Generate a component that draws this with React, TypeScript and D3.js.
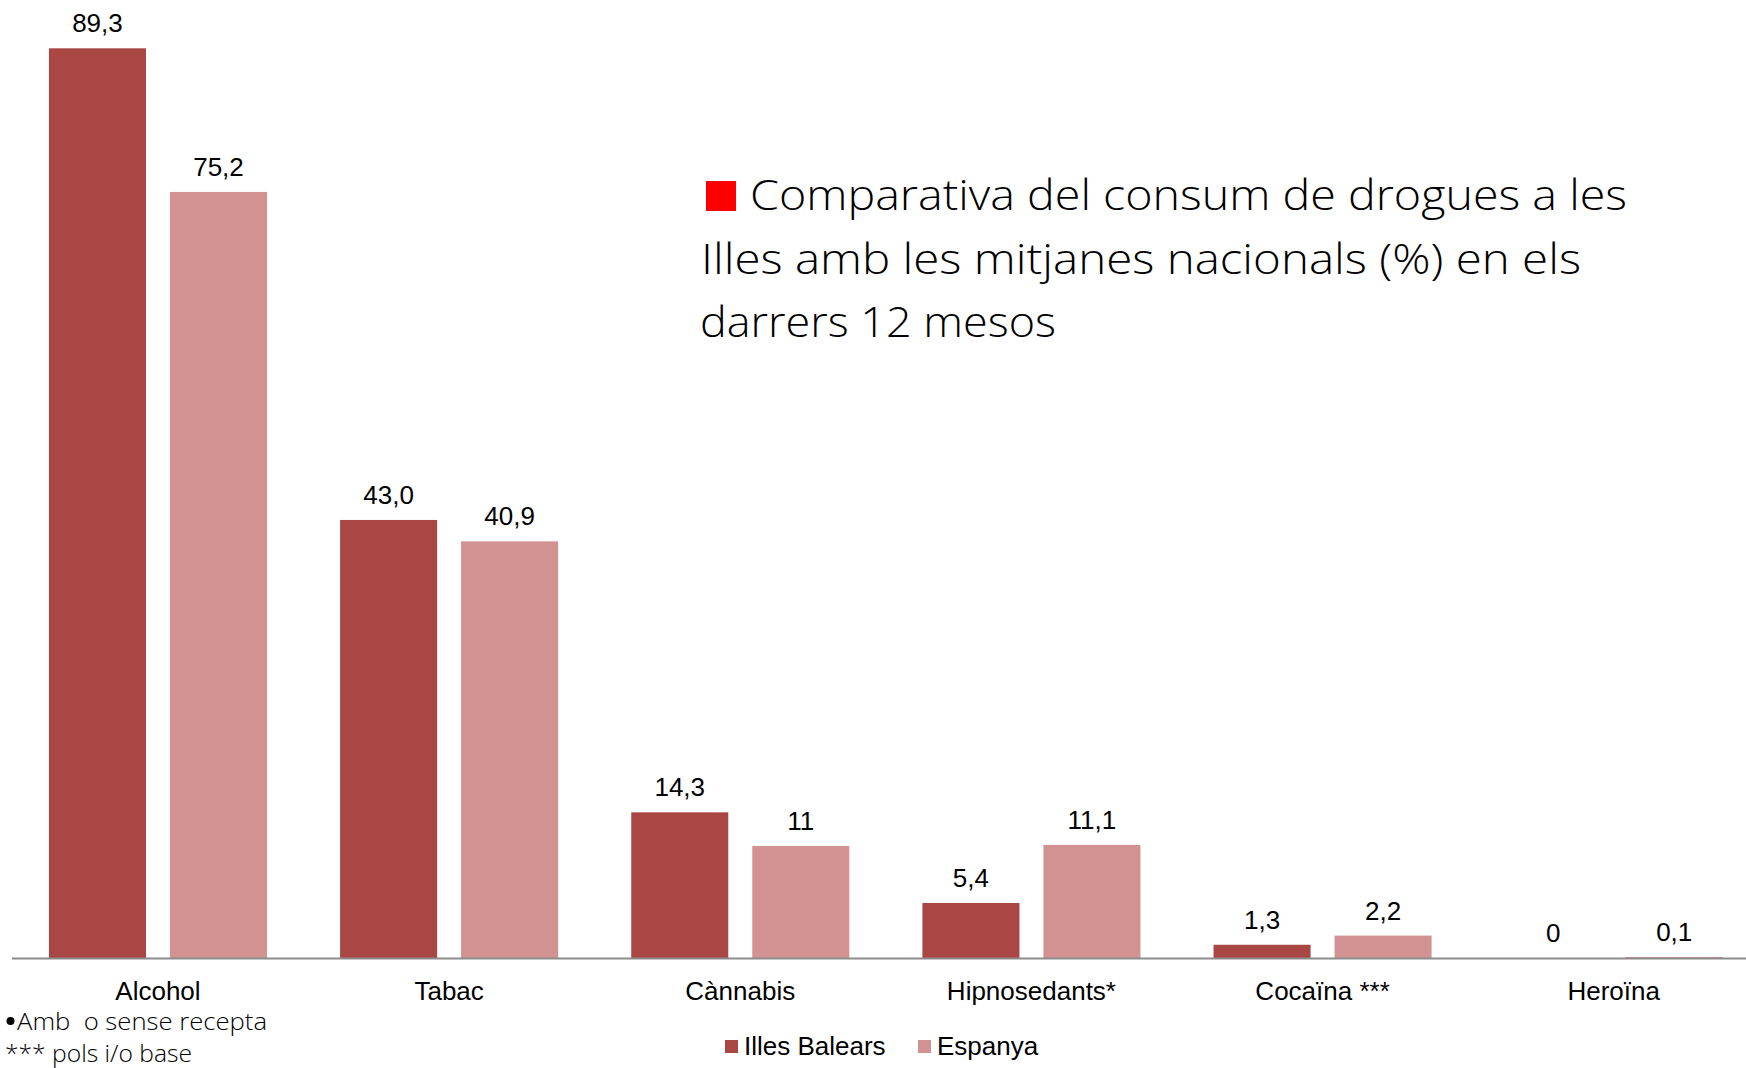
import React from "react";
import * as d3 from "d3";

const categories = ["Alcohol", "Tabac", "Cànnabis", "Hipnosedants*", "Cocaïna ***", "Heroïna"];
const series = ["Illes Balears", "Espanya"];
const illesBalears = [89.3, 43.0, 14.3, 5.4, 1.3, 0];
const espanya = [75.2, 40.9, 11, 11.1, 2.2, 0.1];
const illesLabels = ["89,3", "43,0", "14,3", "5,4", "1,3", "0"];
const espanyaLabels = ["75,2", "40,9", "11", "11,1", "2,2", "0,1"];
const titleLines = [
  "Comparativa del consum de drogues a les",
  "Illes amb les mitjanes nacionals (%) en els",
  "darrers 12 mesos",
];
const notes = ["Amb  o sense recepta", "*** pols i/o base"];

const colors = ["#a94745", "#d39292"];

export default function App() {
  const width = 1746;
  const height = 1068;
  const baseline = 958;

  const x0 = d3
    .scaleBand<string>()
    .domain(categories)
    .range([12.4, 1759.3])
    .paddingInner(0.251)
    .paddingOuter(0.1255);
  const x1 = d3
    .scaleBand<string>()
    .domain(series)
    .range([0, x0.bandwidth()])
    .paddingInner(0.198);
  const y = d3.scaleLinear().domain([0, 89.3]).range([baseline, 48.3]);

  const values = [illesBalears, espanya];
  const labels = [illesLabels, espanyaLabels];
  const sans = "'Liberation Sans', Arial, sans-serif";
  const human = "'Open Sans', 'Noto Sans', sans-serif";

  const titleX = [750, 701, 700];
  const titleW = [877, 880, 356];

  return (
    <svg
      width={width}
      height={height}
      style={{ position: "absolute", left: 0, top: 0, background: "#fff" }}
    >
      {series.map((s, si) => (
        <g key={s} fill={colors[si]}>
          {categories.map((c, i) => (
            <rect
              key={c}
              x={x0(c)! + x1(s)!}
              y={y(values[si][i])}
              width={x1.bandwidth()}
              height={baseline - y(values[si][i])}
            />
          ))}
        </g>
      ))}
      <line x1={12} x2={width} y1={958.5} y2={958.5} stroke="#8c8c8c" strokeWidth={2} />

      <g fontFamily={sans} fontSize={26} textAnchor="middle" fill="#000">
        {series.map((s, si) =>
          categories.map((c, i) => (
            <text
              key={s + c}
              x={x0(c)! + x1(s)! + x1.bandwidth() / 2}
              y={y(values[si][i]) - 16}
            >
              {labels[si][i]}
            </text>
          ))
        )}
        {categories.map((c) => (
          <text key={c} x={x0(c)! + x0.bandwidth() / 2} y={1000}>
            {c}
          </text>
        ))}
      </g>

      <g fontFamily={sans} fontSize={26} fill="#000">
        <rect x={725} y={1040} width={13} height={13} fill={colors[0]} />
        <text x={744} y={1055}>{series[0]}</text>
        <rect x={918} y={1040} width={13} height={13} fill={colors[1]} />
        <text x={937} y={1055}>{series[1]}</text>
      </g>

      <g fontFamily={human} fontWeight={300} fill="#000">
        <rect x={706} y={181} width={30} height={30} fill="#ff0000" />
        {titleLines.map((t, i) => (
          <text
            key={i}
            x={titleX[i]}
            y={210 + i * 63.5}
            fontSize={42}
            textLength={titleW[i]}
            lengthAdjust="spacingAndGlyphs"
          >
            {t}
          </text>
        ))}
        <circle cx={10.5} cy={1021} r={4} fill="#000" />
        <text x={17} y={1030} fontSize={24} xmlSpace="preserve" textLength={250} lengthAdjust="spacingAndGlyphs">
          {notes[0]}
        </text>
        <text x={5} y={1062} fontSize={24} textLength={187} lengthAdjust="spacingAndGlyphs">
          {notes[1]}
        </text>
      </g>
    </svg>
  );
}
